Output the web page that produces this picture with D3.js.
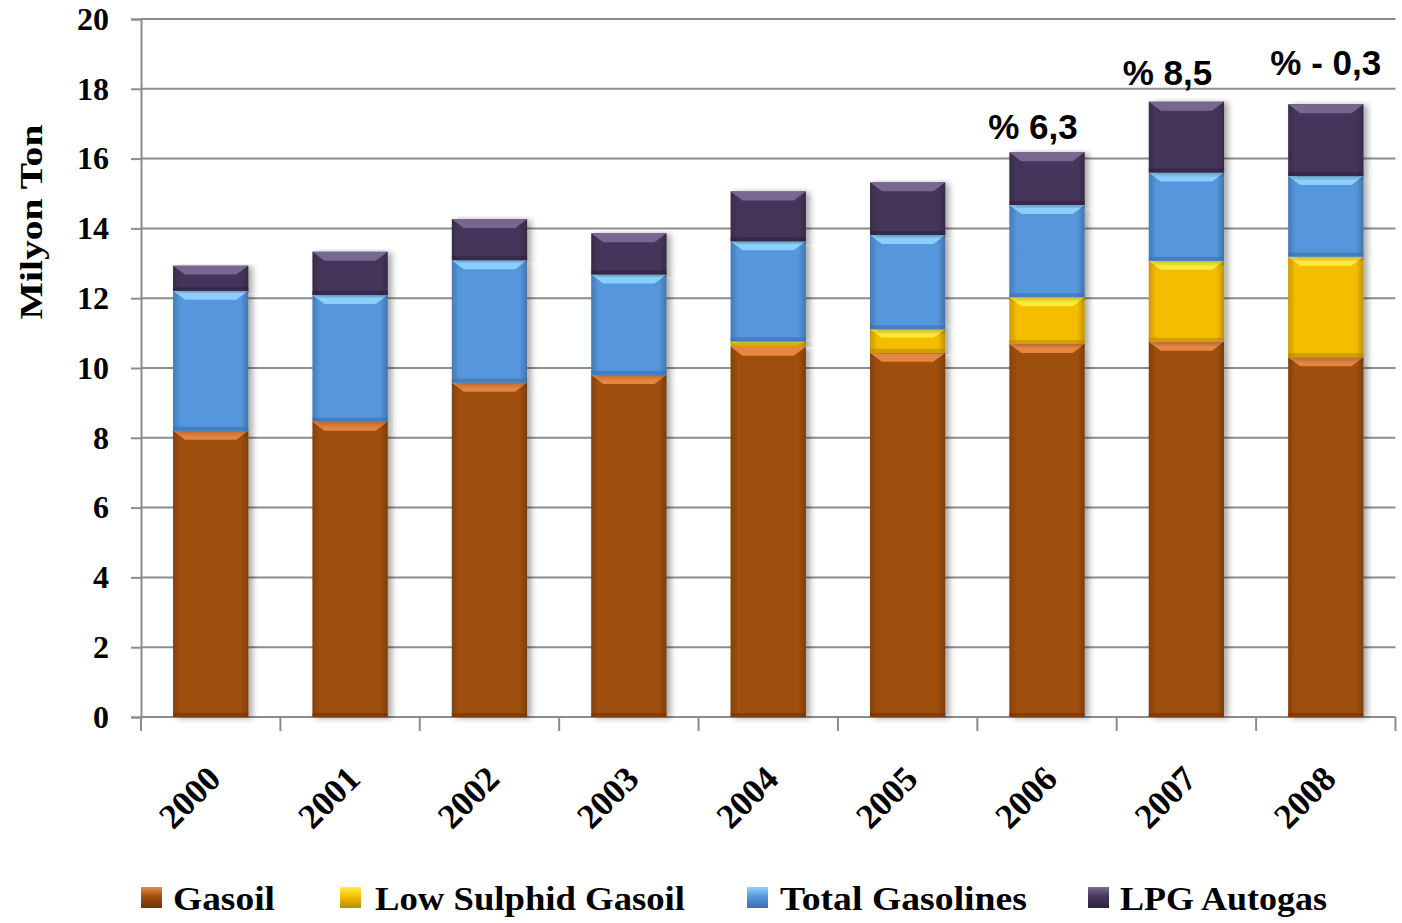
<!DOCTYPE html>
<html><head><meta charset="utf-8">
<script src="https://cdn.jsdelivr.net/npm/d3@7"></script>
<style>body{margin:0;background:#fff}svg{display:block}</style>
</head><body>
<svg id="chart" width="1402" height="923"></svg>
<script>
const years = ["2000","2001","2002","2003","2004","2005","2006","2007","2008"];
const gasoil          = [8.20, 8.46, 9.58, 9.80, 10.61, 10.44, 10.69, 10.75, 10.31];
const lowSulphid      = [0, 0, 0, 0, 0.15, 0.67, 1.34, 2.32, 2.88];
const totalGasolines  = [4.01, 3.63, 3.51, 2.88, 2.87, 2.70, 2.64, 2.53, 2.31];
const lpgAutogas      = [0.72, 1.24, 1.18, 1.18, 1.43, 1.51, 1.51, 2.03, 2.06];
const seriesNames = ["Gasoil","Low Sulphid Gasoil","Total Gasolines","LPG Autogas"];
const yTicks = [0,2,4,6,8,10,12,14,16,18,20];
const annotationYears = ["2006","2007","2008"];
const annotationTexts = ["% 6,3","% 8,5","% - 0,3"];

(function(){
const colors = {
  "Gasoil":            {base:"#9f4f0e", light:"#ee8c45", dark:"#6e3408"},
  "Low Sulphid Gasoil":{base:"#f5bd05", light:"#fff040", dark:"#b98a00"},
  "Total Gasolines":   {base:"#5596dc", light:"#8fd6ff", dark:"#3a6faa"},
  "LPG Autogas":       {base:"#45365a", light:"#7d6d96", dark:"#2c2240"}
};
// layout nudges for the annotation labels (pixels)
const annDx = [-14, -19, 0];
const annDy = [-13, -17, -29];

const data = years.map((yr,i)=>({year:yr, "Gasoil":gasoil[i], "Low Sulphid Gasoil":lowSulphid[i],
  "Total Gasolines":totalGasolines[i], "LPG Autogas":lpgAutogas[i]}));
const stacked = d3.stack().keys(seriesNames)(data);

const svg = d3.select("#chart");
const mLeft = 141, mRight = 1395.5, mTop = 19, mBottom = 717;
const x = d3.scaleBand().domain(years).range([mLeft,mRight]).padding(0);
const y = d3.scaleLinear().domain([0,20]).range([mBottom,mTop]);
const barW = x.bandwidth()*0.54;
const serif = "'Liberation Serif','Times New Roman',serif";
const sans = "'Liberation Sans',Arial,sans-serif";

const defs = svg.append("defs");
const f = defs.append("filter").attr("id","shadow").attr("x","-20%").attr("y","-5%").attr("width","140%").attr("height","110%");
f.append("feDropShadow").attr("dx",4).attr("dy",1).attr("stdDeviation",3).attr("flood-color","#000").attr("flood-opacity",0.35);
const side = defs.append("linearGradient").attr("id","sideShade").attr("x1","0").attr("x2","1").attr("y1","0").attr("y2","0");
side.append("stop").attr("offset","0").attr("stop-color","#000").attr("stop-opacity",0.18);
side.append("stop").attr("offset","0.1").attr("stop-color","#000").attr("stop-opacity",0);
side.append("stop").attr("offset","0.9").attr("stop-color","#000").attr("stop-opacity",0);
side.append("stop").attr("offset","1").attr("stop-color","#000").attr("stop-opacity",0.22);

// grid
svg.append("g").selectAll("line").data(yTicks.filter(t=>t>0)).join("line")
  .attr("x1",mLeft).attr("x2",mRight).attr("y1",d=>y(d)).attr("y2",d=>y(d))
  .attr("stroke","#8c8c8c").attr("stroke-width",2);

// y axis
const yAxis = svg.append("g").attr("transform",`translate(${mLeft},0)`)
  .call(d3.axisLeft(y).tickValues(yTicks).tickSize(10).tickPadding(22).tickFormat(d3.format("d")));
yAxis.select(".domain").attr("stroke","#8c8c8c").attr("stroke-width",2);
yAxis.selectAll(".tick line").attr("stroke","#8c8c8c").attr("stroke-width",2);
yAxis.selectAll("text").attr("font-family",serif).attr("font-weight","bold").attr("font-size",32).attr("fill","#000");

// x axis
const xAxisG = svg.append("g").attr("transform",`translate(0,${mBottom})`);
xAxisG.append("line").attr("x1",mLeft).attr("x2",mRight).attr("stroke","#8c8c8c").attr("stroke-width",2);
xAxisG.selectAll("line.tk").data(d3.range(years.length+1)).join("line").attr("class","tk")
  .attr("x1",i=>mLeft+i*x.step()).attr("x2",i=>mLeft+i*x.step()).attr("y1",0).attr("y2",14)
  .attr("stroke","#8c8c8c").attr("stroke-width",2);
xAxisG.selectAll("text").data(years).join("text")
  .attr("transform",d=>`translate(${x(d)+x.bandwidth()/2+12},${64}) rotate(-45)`)
  .attr("text-anchor","end").attr("font-family",serif).attr("font-weight","bold").attr("font-size",35).text(d=>d);

// y title
svg.append("text").attr("transform","translate(42,222) rotate(-90)").attr("text-anchor","middle")
  .attr("font-family",serif).attr("font-weight","bold").attr("font-size",31).attr("textLength",195).attr("lengthAdjust","spacingAndGlyphs").text("Milyon Ton");

// bars
const barsG = svg.append("g");
stacked.forEach(s=>{
  const c = colors[s.key];
  s.forEach((d,i)=>{
    const h = y(d[0]) - y(d[1]);
    if (h <= 0.01) return;
    const x0 = x(years[i]) + (x.bandwidth()-barW)/2;
    const y0 = y(d[1]);
    const g = barsG.append("g").attr("filter","url(#shadow)");
    g.append("rect").attr("x",x0).attr("y",y0).attr("width",barW).attr("height",h).attr("fill",c.base);
    g.append("rect").attr("x",x0).attr("y",y0).attr("width",barW).attr("height",h).attr("fill","url(#sideShade)");
    const b = Math.min(9, h*0.35);
    const inset = Math.min(12, b*1.4);
    g.append("path").attr("d",`M${x0},${y0} L${x0+barW},${y0} L${x0+barW-inset},${y0+b} L${x0+inset},${y0+b} Z`)
      .attr("fill",c.light).attr("opacity",0.9);
    const bb = Math.min(4, h*0.2);
    g.append("rect").attr("x",x0).attr("y",y0+h-bb).attr("width",barW).attr("height",bb).attr("fill",c.dark).attr("opacity",0.6);
  });
});

// annotations
const totals = data.map(d=>seriesNames.reduce((a,k)=>a+d[k],0));
svg.append("g").selectAll("text").data(annotationYears).join("text")
  .attr("x",(d,i)=>x(d)+x.bandwidth()/2+annDx[i])
  .attr("y",(d,i)=>y(totals[years.indexOf(d)])+annDy[i])
  .attr("text-anchor","middle").attr("font-family",sans).attr("font-weight","bold").attr("font-size",35)
  .text((d,i)=>annotationTexts[i]);

// legend
const legendPos = [{sx:141, tx:173, tw:102},{sx:340, tx:375, tw:310},{sx:747, tx:780, tw:247},{sx:1088, tx:1120, tw:207}];
const lg = svg.append("g");
seriesNames.forEach((n,i)=>{
  const c = colors[n], p = legendPos[i];
  const gid = "lg"+i;
  const gr = defs.append("linearGradient").attr("id",gid).attr("x1",0).attr("x2",0).attr("y1",0).attr("y2",1);
  gr.append("stop").attr("offset","0").attr("stop-color",c.light);
  gr.append("stop").attr("offset","0.45").attr("stop-color",c.base);
  gr.append("stop").attr("offset","1").attr("stop-color",c.dark);
  lg.append("rect").attr("x",p.sx).attr("y",887).attr("width",21).attr("height",21).attr("fill",`url(#${gid})`);
  lg.append("text").attr("x",p.tx).attr("y",910).attr("font-family",serif).attr("font-weight","bold").attr("font-size",33)
    .attr("textLength",p.tw).attr("lengthAdjust","spacingAndGlyphs").text(n);
});
})();
</script>
</body></html>
